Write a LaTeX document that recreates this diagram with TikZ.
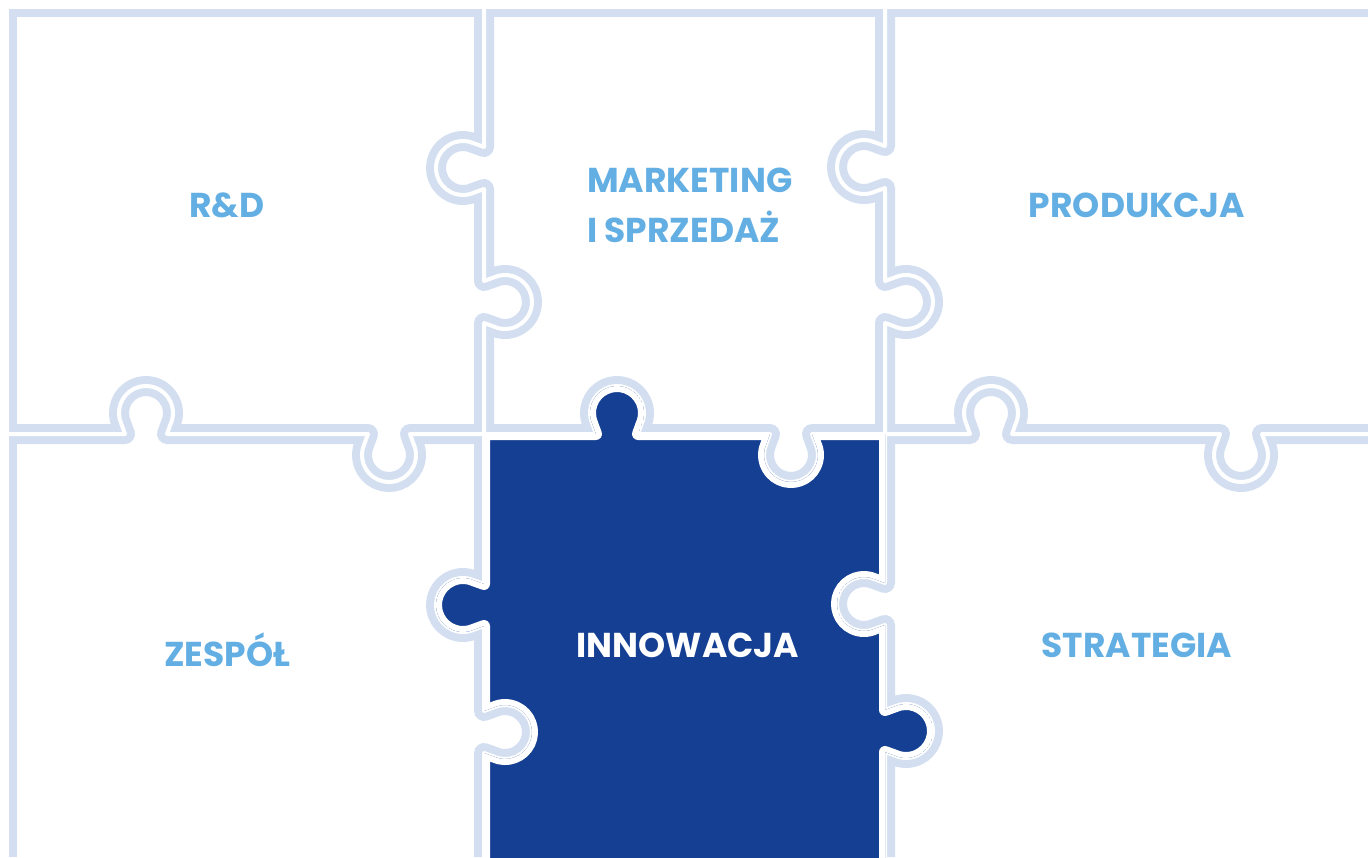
\documentclass[tikz,border=0pt]{standalone}
\usepackage{fontspec}
\newfontfamily\pop{Poppins}
\definecolor{lb}{HTML}{D3DFF1}
\definecolor{db}{HTML}{153F92}
\definecolor{tb}{HTML}{63AFE3}
% knobs on the horizontal cut (y=434), traversed left to right
\newcommand\kup[1]{-- (#1-21,434) -- (#1-24.5,424.4) arc[start angle=155,end angle=385,radius=27] -- (#1+21,434)}
\newcommand\kdn[1]{-- (#1-21,434) -- (#1-24.5,443.6) arc[start angle=205,end angle=-25,radius=27] -- (#1+21,434)}
% knobs on vertical cuts, traversed top to bottom
\newcommand\kl[2]{-- (#1,#2-21) -- (#1-9.6,#2-24.5) arc[start angle=295,end angle=65,radius=27] -- (#1,#2+21)}
\newcommand\kr[2]{-- (#1,#2-21) -- (#1+9.6,#2-24.5) arc[start angle=245,end angle=475,radius=27] -- (#1,#2+21)}
% knobs on vertical cuts, traversed bottom to top
\newcommand\klu[2]{-- (#1,#2+21) -- (#1-9.6,#2+24.5) arc[start angle=65,end angle=295,radius=27] -- (#1,#2-21)}
\newcommand\kru[2]{-- (#1,#2+21) -- (#1+9.6,#2+24.5) arc[start angle=115,end angle=-115,radius=27] -- (#1,#2-21)}
\newcommand\Hcut{\kup{146}\kdn{389}\kup{617}\kdn{791}\kup{991}\kdn{1241} -- (1368,434)}
\newcommand\Vone{\kl{484}{168}\kr{484}{302}\kl{484}{605}\kr{484}{732} -- (484,857)}
\newcommand\Vtwo{\kl{885}{167}\kr{885}{302}\kl{885}{604}\kr{885}{731} -- (885,857)}
\newcommand\Dpiece{(484,434) \kup{617}\kdn{791} -- (885,434) \kl{885}{604}\kr{885}{731} -- (885,870) -- (484,870) \kru{484}{732}\klu{484}{605} -- (484,434) -- cycle}
\begin{document}
\begin{tikzpicture}[x=1pt,y=-1pt,
  band/.style={draw=lb, line width=20pt, line join=round},
  gap/.style={draw=white, line width=4pt, line join=round},
  border/.style={draw=lb, line width=8pt, line join=miter},
  lbl/.style={text=tb, font=\pop\bfseries\fontsize{34.5}{50}\selectfont, align=left, inner sep=0pt}]
\useasboundingbox (0,0) rectangle (1368,857);
\fill[white] (0,0) rectangle (1368,857);
\draw[border] (13,857) -- (13,13) -- (1368,13);
\draw[band] (13,434) \Hcut;
\draw[band] (484,13) \Vone;
\draw[band] (885,13) \Vtwo;
\draw[gap] (0,434) \Hcut;
\draw[gap] (484,0) \Vone;
\draw[gap] (885,0) \Vtwo;
\begin{scope}
\clip \Dpiece;
\fill[db] \Dpiece;
\draw[white, line width=12pt, line join=round] \Dpiece;
\end{scope}
\node[lbl] (rd) at (227,205) {R\&D};
\node[lbl, anchor=west] (mk) at (587,205) {MARKETING\\I SPRZEDAŻ};
\node[lbl] (pr) at (1137,205) {PRODUKCJA};
\node[lbl] (ze) at (227,650) {ZESPÓŁ};
\node[lbl, text=white] (in) at (688,645) {INNOWACJA};
\node[lbl] (st) at (1137,645) {STRATEGIA};
\end{tikzpicture}
\end{document}
